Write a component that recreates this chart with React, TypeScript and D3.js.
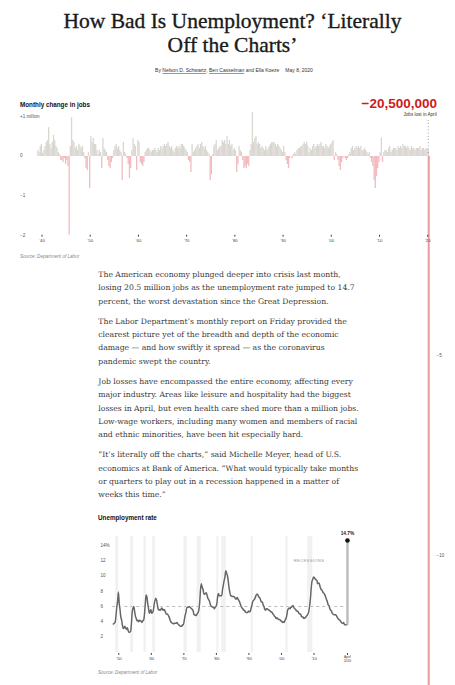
import React from 'react';
import * as d3 from 'd3';

const TITLE_LINES = ['How Bad Is Unemployment? ‘Literally', 'Off the Charts’'];
const AUTHORS = ['Nelson D. Schwartz', 'Ben Casselman', 'Ella Koeze'];
const DATE_LINE = 'May 8, 2020';

const PARAGRAPHS: string[][] = [
  [
    'The American economy plunged deeper into crisis last month,',
    'losing 20.5 million jobs as the unemployment rate jumped to 14.7',
    'percent, the worst devastation since the Great Depression.',
  ],
  [
    'The Labor Department’s monthly report on Friday provided the',
    'clearest picture yet of the breadth and depth of the economic',
    'damage — and how swiftly it spread — as the coronavirus',
    'pandemic swept the country.',
  ],
  [
    'Job losses have encompassed the entire economy, affecting every',
    'major industry. Areas like leisure and hospitality had the biggest',
    'losses in April, but even health care shed more than a million jobs.',
    'Low-wage workers, including many women and members of racial',
    'and ethnic minorities, have been hit especially hard.',
  ],
  [
    '“It’s literally off the charts,” said Michelle Meyer, head of U.S.',
    'economics at Bank of America. “What would typically take months',
    'or quarters to play out in a recession happened in a matter of',
    'weeks this time.”',
  ],
];

// Monthly change in jobs (thousands), one representative value per quarter, 1939 Q1 .. 2020 Q1
const JOB_START_YEAR = 1939;
const jobChange: number[] = [
  150, 100, 250, 300, // 1939
  80, 150, 250, 350, // 1940
  400, 720, 300, 200, // 1941
  350, 530, 400, 250, // 1942
  200, 100, 50, -100, // 1943
  -100, -150, -50, -200, // 1944
  -100, -250, -1960, 250, // 1945
  970, 400, 350, 200, // 1946
  250, 150, 300, 250, // 1947
  200, 250, 100, -50, // 1948
  -300, -350, 100, -800, // 1949
  500, 350, 450, 300, // 1950
  300, 150, 50, 150, // 1951
  100, -300, 450, 200, // 1952
  150, 100, -100, -250, // 1953
  -300, -150, -50, 150, // 1954
  250, 300, 200, 250, // 1955
  150, 100, -600, 350, // 1956
  100, 50, -50, -200, // 1957
  -550, -300, 150, 450, // 1958
  300, 250, -350, 400, // 1959
  350, -150, -200, -250, // 1960
  -150, 100, 150, 200, // 1961
  200, 150, 100, 150, // 1962
  150, 200, 150, 100, // 1963
  200, 150, 250, 200, // 1964
  250, 300, 250, 300, // 1965
  350, 250, 200, 250, // 1966
  150, 100, 200, 250, // 1967
  200, 250, 200, 300, // 1968
  300, 250, 200, 150, // 1969
  100, -100, -150, -400, // 1970
  300, 100, 150, 200, // 1971
  250, 300, 200, 300, // 1972
  350, 250, 200, 250, // 1973
  150, 100, 50, -600, // 1974
  -450, 50, 250, 300, // 1975
  400, 150, 200, 250, // 1976
  250, 400, 350, 400, // 1977
  300, 500, 300, 400, // 1978
  250, 300, 150, 200, // 1979
  150, -400, -200, 250, // 1980
  150, 100, -100, -300, // 1981
  -250, -300, -200, -250, // 1982
  150, 300, 1100, 350, // 1983
  450, 500, 300, 350, // 1984
  300, 200, 250, 200, // 1985
  150, 250, 150, 200, // 1986
  250, 300, 350, 350, // 1987
  350, 300, 250, 300, // 1988
  250, 200, 150, 100, // 1989
  250, 100, -100, -200, // 1990
  -300, -50, 0, -50, // 1991
  50, 100, 50, 150, // 1992
  200, 200, 250, 250, // 1993
  300, 350, 300, 350, // 1994
  250, 100, 200, 150, // 1995
  250, 300, 200, 250, // 1996
  300, 250, 300, 350, // 1997
  250, 250, 200, 300, // 1998
  250, 200, 250, 300, // 1999
  350, 400, -100, 100, // 2000
  50, -100, -250, -350, // 2001
  -150, -50, 0, -50, // 2002
  -100, -50, 50, 100, // 2003
  200, 250, 150, 200, // 2004
  250, 200, 250, 200, // 2005
  250, 150, 150, 200, // 2006
  150, 100, 50, 100, // 2007
  -50, -150, -250, -600, // 2008
  -800, -500, -300, -150, // 2009
  100, 460, -150, 100, // 2010
  150, 150, 100, 200, // 2011
  250, 100, 150, 200, // 2012
  200, 200, 150, 250, // 2013
  200, 250, 200, 300, // 2014
  250, 250, 200, 250, // 2015
  200, 150, 250, 200, // 2016
  200, 150, 200, 200, // 2017
  200, 250, 150, 200, // 2018
  200, 150, 200, 200, // 2019
  150, // 2020 Q1
];
const APRIL_2020_YEAR = 2020.25;
const APRIL_2020_LOSS = -20500;
const APRIL_LABEL = '−20,500,000';
const APRIL_SUB = 'Jobs lost in April';

const jobXTicks = [1940, 1950, 1960, 1970, 1980, 1990, 2000, 2010, 2020];
const jobYTicksLeft = [
  { v: 1, label: '+1 million' },
  { v: 0, label: '0' },
  { v: -1, label: '−1' },
  { v: -2, label: '−2' },
];
const jobYTicksRight = [
  { v: -5, label: '−5' },
  { v: -10, label: '−10' },
];

// Unemployment rate (%), quarterly, 1948 Q1 .. 2020 Q1
const UR_START_YEAR = 1948;
const unemployment: number[] = [
  3.7, 3.7, 3.8, 3.9, // 1948
  4.7, 5.9, 6.7, 7.9, // 1949
  6.4, 5.6, 4.6, 4.2, // 1950
  3.5, 3.1, 3.2, 3.4, // 1951
  3.1, 3.0, 3.2, 2.8, // 1952
  2.6, 2.6, 2.7, 3.7, // 1953
  5.3, 5.8, 6.0, 5.3, // 1954
  4.7, 4.4, 4.1, 4.2, // 1955
  4.0, 4.2, 4.1, 4.1, // 1956
  3.9, 4.1, 4.2, 4.9, // 1957
  6.3, 7.5, 7.3, 6.4, // 1958
  5.8, 5.1, 5.3, 5.6, // 1959
  5.1, 5.2, 5.5, 6.3, // 1960
  6.8, 7.1, 6.8, 6.2, // 1961
  5.6, 5.5, 5.6, 5.5, // 1962
  5.8, 5.7, 5.5, 5.6, // 1963
  5.5, 5.2, 5.0, 5.0, // 1964
  4.9, 4.7, 4.4, 4.1, // 1965
  3.9, 3.8, 3.8, 3.7, // 1966
  3.8, 3.8, 3.8, 3.9, // 1967
  3.7, 3.6, 3.5, 3.4, // 1968
  3.4, 3.4, 3.6, 3.6, // 1969
  4.2, 4.8, 5.2, 5.8, // 1970
  5.9, 5.9, 6.0, 5.9, // 1971
  5.8, 5.7, 5.6, 5.4, // 1972
  4.9, 4.9, 4.8, 4.8, // 1973
  5.1, 5.2, 5.6, 6.6, // 1974
  8.3, 9.0, 8.5, 8.3, // 1975
  7.7, 7.6, 7.7, 7.8, // 1976
  7.5, 7.1, 6.9, 6.7, // 1977
  6.3, 6.0, 6.0, 5.9, // 1978
  5.9, 5.7, 5.9, 6.0, // 1979
  6.3, 7.3, 7.7, 7.4, // 1980
  7.4, 7.4, 7.4, 8.2, // 1981
  8.8, 9.4, 9.9, 10.7, // 1982
  10.4, 10.1, 9.4, 8.5, // 1983
  7.9, 7.4, 7.4, 7.3, // 1984
  7.3, 7.3, 7.2, 7.0, // 1985
  7.0, 7.2, 7.0, 6.8, // 1986
  6.6, 6.3, 6.0, 5.8, // 1987
  5.7, 5.5, 5.5, 5.3, // 1988
  5.2, 5.2, 5.2, 5.4, // 1989
  5.3, 5.3, 5.7, 6.1, // 1990
  6.6, 6.8, 6.9, 7.1, // 1991
  7.4, 7.6, 7.6, 7.4, // 1992
  7.2, 7.1, 6.8, 6.6, // 1993
  6.6, 6.2, 6.0, 5.6, // 1994
  5.5, 5.7, 5.7, 5.6, // 1995
  5.5, 5.5, 5.3, 5.3, // 1996
  5.2, 5.0, 4.9, 4.7, // 1997
  4.6, 4.4, 4.5, 4.4, // 1998
  4.3, 4.3, 4.2, 4.1, // 1999
  4.0, 3.9, 4.0, 3.9, // 2000
  4.2, 4.4, 4.8, 5.5, // 2001
  5.7, 5.8, 5.7, 5.9, // 2002
  5.9, 6.1, 6.1, 5.8, // 2003
  5.7, 5.6, 5.4, 5.4, // 2004
  5.3, 5.1, 5.0, 5.0, // 2005
  4.7, 4.6, 4.6, 4.4, // 2006
  4.5, 4.5, 4.7, 4.8, // 2007
  5.0, 5.3, 6.0, 6.9, // 2008
  8.3, 9.3, 9.6, 9.9, // 2009
  9.8, 9.6, 9.5, 9.5, // 2010
  9.0, 9.1, 9.0, 8.6, // 2011
  8.3, 8.2, 8.0, 7.8, // 2012
  7.7, 7.5, 7.2, 6.9, // 2013
  6.6, 6.2, 6.1, 5.7, // 2014
  5.5, 5.4, 5.1, 5.0, // 2015
  4.9, 4.9, 4.9, 4.8, // 2016
  4.6, 4.4, 4.3, 4.2, // 2017
  4.1, 3.9, 3.8, 3.8, // 2018
  3.9, 3.6, 3.6, 3.6, // 2019
  3.6, // 2020 Q1
];
const UR_APRIL_2020 = 14.7;
const UR_PEAK_LABEL = '14.7%';
const UR_REFERENCE = 6;

const recessions: [number, number][] = [
  [1948.9, 1949.8], [1953.5, 1954.4], [1957.6, 1958.3], [1960.3, 1961.1],
  [1969.9, 1970.9], [1973.9, 1975.2], [1980.0, 1980.6], [1981.5, 1982.9],
  [1990.5, 1991.2], [2001.2, 2001.9], [2007.9, 2009.5],
];
const urXTicks = [1950, 1960, 1970, 1980, 1990, 2000, 2010];
const urYTicks = [2, 4, 6, 8, 10, 12, 14];

const SANS = '"Liberation Sans", Arial, sans-serif';
const SERIF = '"Liberation Serif", "Times New Roman", serif';
const BODY = '"DejaVu Serif", Georgia, serif';

const yrLabel = (y: number) => '’' + String(y).slice(2);

export default function App() {
  // ---- top chart scales
  const xJ = d3.scaleLinear().domain([1940, 2020]).range([42, 427.7]);
  const yJ = d3.scaleLinear().domain([0, -1]).range([156, 196]);

  // ---- bottom chart scales
  const xU = d3.scaleLinear().domain([1950, 2010]).range([118.8, 314]);
  const yU = d3.scaleLinear().domain([0, 14]).range([652, 545.8]);

  const urPoints: [number, number][] = unemployment.map((v, i) => [
    UR_START_YEAR + i / 4 + 0.125,
    v,
  ]);
  const line = d3
    .line<[number, number]>()
    .x((d) => xU(d[0]))
    .y((d) => yU(d[1]))
    .curve(d3.curveMonotoneX);
  const urEndX = xU(UR_START_YEAR + (unemployment.length - 1) / 4 + 0.125);
  const aprX = xU(2020.29);

  let bodyY = 275;
  const bodyLines: { text: string; y: number }[] = [];
  PARAGRAPHS.forEach((p) => {
    p.forEach((t) => {
      bodyLines.push({ text: t, y: bodyY });
      bodyY += 13.35;
    });
    bodyY += 6.7;
  });

  const aprBarX = xJ(APRIL_2020_YEAR);

  return (
    <svg
      width={455}
      height={685}
      viewBox="0 0 455 685"
      style={{ position: 'absolute', left: 0, top: 0, background: '#fff' }}
    >
      {/* Headline */}
      {TITLE_LINES.map((t, i) => (
        <text
          key={t}
          x={232.5}
          y={27.7 + i * 24}
          textAnchor="middle"
          fontFamily={SERIF}
          fontSize={21.5}
          fill="#1a1a1a"
          stroke="#1a1a1a"
          strokeWidth={0.35}
        >
          {t}
        </text>
      ))}
      <text x={234} y={72} textAnchor="middle" fontFamily={SANS} fontSize={5} fill="#333">
        <tspan>By </tspan>
        <tspan style={{ textDecoration: 'underline' }}>{AUTHORS[0]}</tspan>
        <tspan>, </tspan>
        <tspan style={{ textDecoration: 'underline' }}>{AUTHORS[1]}</tspan>
        <tspan> and {AUTHORS[2]}</tspan>
        <tspan dx={6}>{DATE_LINE}</tspan>
      </text>

      {/* Top chart: monthly change in jobs */}
      <text x={20} y={105} dominantBaseline="middle" fontFamily={SANS} fontWeight="bold" fontSize={6.3} fill="#111">
        Monthly change in jobs
      </text>
      {jobYTicksLeft.map((t) => (
        <text
          key={t.label}
          x={20}
          y={yJ(t.v) + (t.v === 1 ? 1 : 0)}
          dominantBaseline="middle"
          fontFamily={SANS}
          fontSize={4.6}
          fill="#555"
        >
          {t.label}
        </text>
      ))}
      {jobYTicksRight.map((t) => (
        <text
          key={t.label}
          x={436.5}
          y={yJ(t.v)}
          dominantBaseline="middle"
          fontFamily={SANS}
          fontSize={4.6}
          fill="#555"
        >
          {t.label}
        </text>
      ))}
      <g>
        {jobChange.map((v, i) => {
          const yr = JOB_START_YEAR + i / 4;
          const x0 = xJ(yr);
          const x1 = xJ(yr + 0.25);
          const y0 = yJ(0);
          const y1 = yJ(v / 1000);
          return (
            <rect
              key={i}
              x={x0}
              width={x1 - x0 + 0.1}
              y={Math.min(y0, y1)}
              height={Math.abs(y1 - y0)}
              fill={v >= 0 ? '#dad7d2' : '#f3bbbf'}
            />
          );
        })}
      </g>
      {/* April 2020 */}
      <rect
        x={aprBarX - 1.2}
        width={2}
        y={yJ(0)}
        height={yJ(APRIL_2020_LOSS / 1000) - yJ(0)}
        fill="#eb9a9d"
      />
      <line
        x1={428.3}
        x2={428.3}
        y1={120}
        y2={153}
        stroke="#777"
        strokeWidth={0.8}
        strokeDasharray="0.8,2.4"
      />
      <text x={437} y={107.5} textAnchor="end" fontFamily={SANS} fontWeight="bold" fontSize={13.5} fill="#cc1b1b">
        {APRIL_LABEL}
      </text>
      <text x={436.7} y={114.5} textAnchor="end" dominantBaseline="middle" fontFamily={SANS} fontSize={4.6} fill="#333">
        {APRIL_SUB}
      </text>
      {jobXTicks.map((t) => (
        <g key={t}>
          <rect x={xJ(t) - 0.5} y={234.8} width={1} height={1.8} fill="#333" />
          <text
            x={xJ(t)}
            y={240.7}
            textAnchor="middle"
            dominantBaseline="middle"
            fontFamily={SANS}
            fontSize={4.3}
            fill="#444"
          >
            {yrLabel(t)}
          </text>
        </g>
      ))}
      <text x={20} y={257} dominantBaseline="middle" fontFamily={SANS} fontStyle="italic" fontSize={4.6} fill="#888">
        Source: Department of Labor
      </text>

      {/* Body text */}
      {bodyLines.map((l, i) => (
        <text key={i} x={98.3} y={l.y} dominantBaseline="middle" fontFamily={BODY} fontSize={7.7} fill="#3a3a3a">
          {l.text}
        </text>
      ))}

      {/* Bottom chart: unemployment rate */}
      <text x={98} y={518} dominantBaseline="middle" fontFamily={SANS} fontWeight="bold" fontSize={6.3} fill="#111">
        Unemployment rate
      </text>
      {recessions.map(([a, b]) => (
        <rect key={a} x={xU(a)} width={Math.max(1.5, xU(b) - xU(a))} y={536} height={116} fill="#f1f1f1" />
      ))}
      <text x={309} y={561} textAnchor="middle" dominantBaseline="middle" fontFamily={SANS} fontSize={4.2} letterSpacing={0.3} fill="#999">
        RECESSIONS
      </text>
      {urYTicks.map((t) => (
        <text
          key={t}
          x={100.5}
          y={yU(t)}
          dominantBaseline="middle"
          fontFamily={SANS}
          fontSize={4.6}
          fill="#555"
        >
          {t === 14 ? '14%' : t}
        </text>
      ))}
      <line
        x1={xU(1948)}
        x2={aprX}
        y1={yU(UR_REFERENCE)}
        y2={yU(UR_REFERENCE)}
        stroke="#aaa"
        strokeWidth={0.8}
        strokeDasharray="3,3"
      />
      <path d={line(urPoints) || ''} fill="none" stroke="#fff" strokeWidth={3} />
      <path d={line(urPoints) || ''} fill="none" stroke="#666" strokeWidth={1.5} />
      <line x1={urEndX} x2={aprX} y1={yU(unemployment[unemployment.length - 1])} y2={yU(unemployment[unemployment.length - 1])} stroke="#666" strokeWidth={1.5} />
      <rect
        x={aprX - 1.2}
        width={2.4}
        y={yU(UR_APRIL_2020)}
        height={yU(unemployment[unemployment.length - 1]) - yU(UR_APRIL_2020)}
        fill="#bbb"
      />
      <circle cx={aprX} cy={yU(UR_APRIL_2020)} r={2.3} fill="#111" />
      <text x={aprX} y={533.5} textAnchor="middle" dominantBaseline="middle" fontFamily={SANS} fontWeight="bold" fontSize={4.8} fill="#222">
        {UR_PEAK_LABEL}
      </text>
      {urXTicks.map((t) => (
        <g key={t}>
          <rect x={xU(t) - 0.5} y={653} width={1} height={1.8} fill="#333" />
          <text
            x={xU(t)}
            y={659.3}
            textAnchor="middle"
            dominantBaseline="middle"
            fontFamily={SANS}
            fontSize={4.3}
            fill="#444"
          >
            {yrLabel(t)}
          </text>
        </g>
      ))}
      <rect x={aprX - 0.5} y={653} width={1} height={1.8} fill="#333" />
      <text x={aprX} y={657.5} textAnchor="middle" dominantBaseline="middle" fontFamily={SANS} fontSize={3.4} fill="#444">
        April
      </text>
      <text x={aprX} y={661.3} textAnchor="middle" dominantBaseline="middle" fontFamily={SANS} fontSize={3.4} fill="#444">
        2020
      </text>
      <text x={98} y={673} dominantBaseline="middle" fontFamily={SANS} fontStyle="italic" fontSize={4.6} fill="#888">
        Source: Department of Labor
      </text>
    </svg>
  );
}
